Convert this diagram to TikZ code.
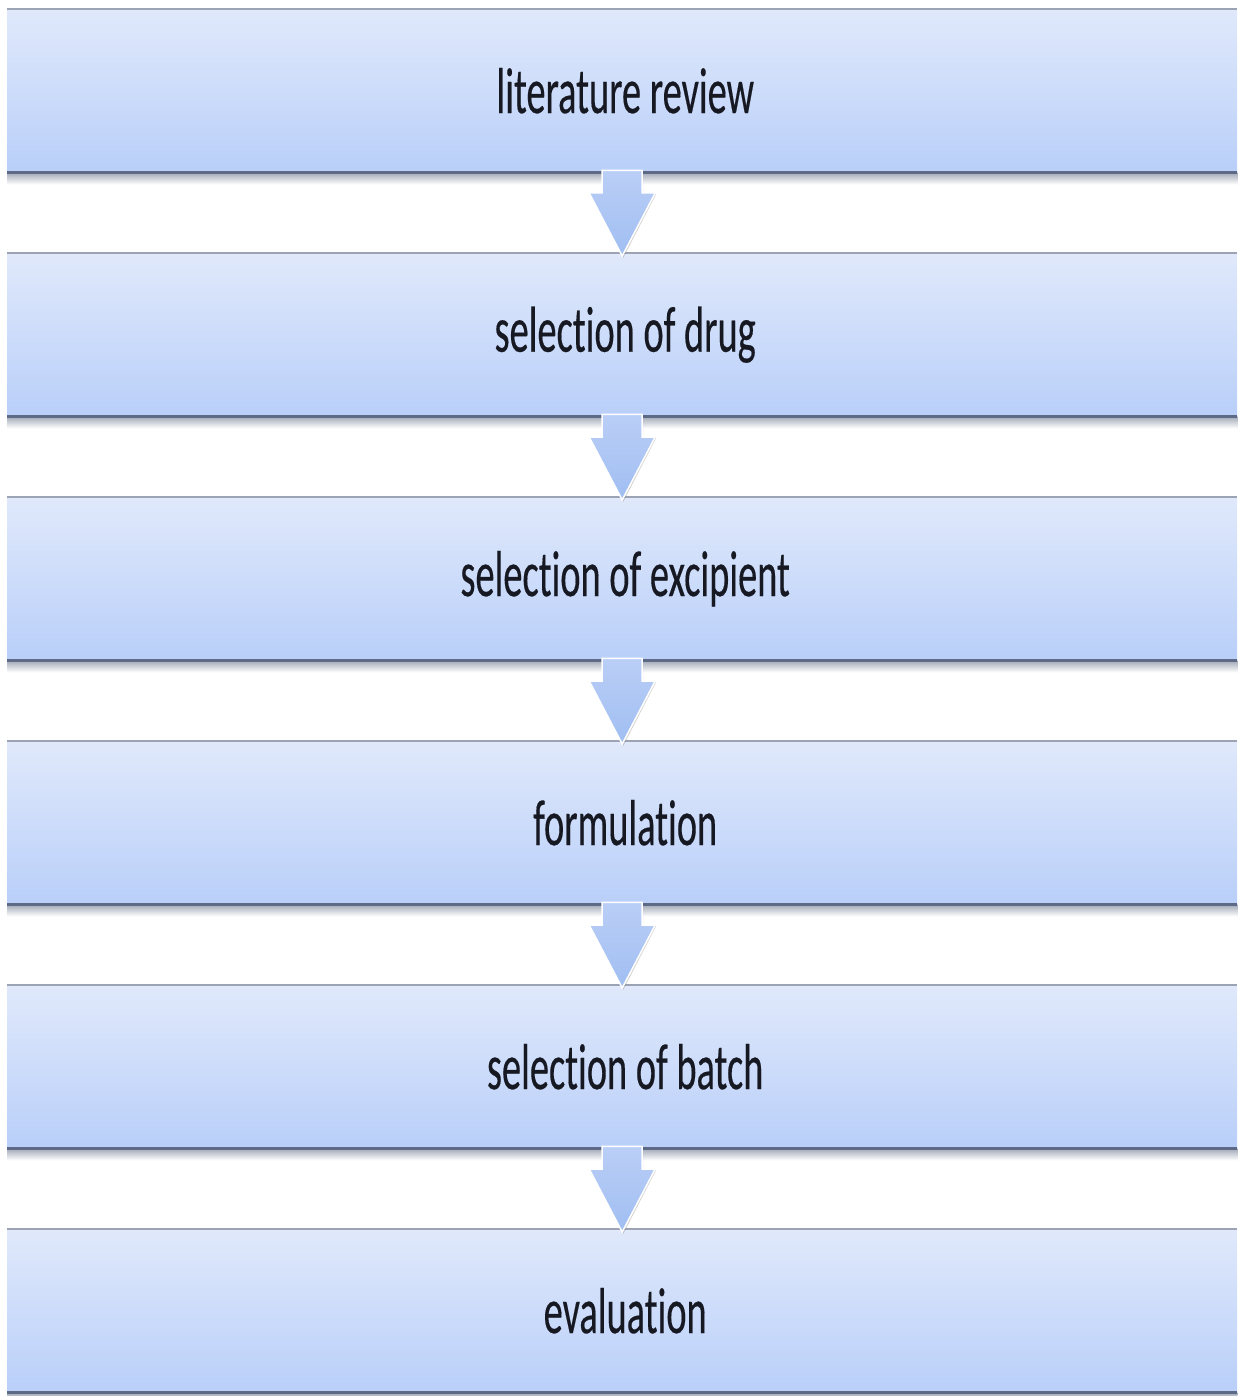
\documentclass[tikz,border=0pt]{standalone}
\usepackage{fontspec}
\setmainfont{Carlito}[Ligatures=NoCommon]
\newfontfamily\lblfont{Carlito}[Ligatures=NoCommon, FakeBold=0.4]
\usetikzlibrary{calc}
\definecolor{barTop}{RGB}{224,233,251}
\definecolor{barBot}{RGB}{185,207,249}
\definecolor{edgeDark}{RGB}{92,106,133}
\definecolor{edgeLight}{RGB}{156,164,180}
\definecolor{shadowGray}{RGB}{160,168,182}
\definecolor{arrTop}{RGB}{186,206,246}
\definecolor{arrBot}{RGB}{160,190,242}
\definecolor{txt}{RGB}{22,24,34}
\newcommand\barlabel[1]{\hspace*{6pt}\scalebox{0.59}[1]{#1}}
\newcommand\flowarrow[2]{%
  \path[arrowshadow] ($(#1.south)+(-19,-1)$) -- ($(#1.south)+(21,-1)$) -- ($(#2.north)+(21,-59)$) -- ($(#2.north)+(34,-59)$) -- ($(#2.north)+(1,5)$) -- ($(#2.north)+(-32,-59)$) -- ($(#2.north)+(-19,-59)$) -- cycle;
  \path[arrowsty] ($(#1.south)+(-20,-2)$) -- ($(#1.south)+(20,-2)$) -- ($(#2.north)+(20,-60)$) -- ($(#2.north)+(33,-60)$) -- ($(#2.north)+(0,3)$) -- ($(#2.north)+(-33,-60)$) -- ($(#2.north)+(-20,-60)$) -- cycle;}
\begin{document}
\begin{tikzpicture}[x=1pt,y=-1pt,
  bar/.style={top color=barTop, bottom color=barBot, minimum width=1230pt, minimum height=163pt,
    inner sep=0pt, anchor=north west, font=\lblfont\fontsize{65}{70}\selectfont, text=txt},
  topedge/.style={draw=edgeLight, line width=2pt},
  botedge/.style={draw=edgeDark, line width=3pt},
  shadowsty/.style={top color=shadowGray, bottom color=white},
  arrowsty/.style={top color=arrTop, bottom color=arrBot, draw=white, line width=1.5pt, line join=miter},
  arrowshadow/.style={fill=gray, opacity=0.35}]
\useasboundingbox (0,0) rectangle (1237,1396);
\fill[white] (0,0) rectangle (1237,1396);
\foreach \i/\t in {1/literature review, 2/selection of drug, 3/selection of excipient, 4/formulation, 5/selection of batch, 6/evaluation}{
  \node[bar] (b\i) at (7,{9+244*(\i-1)}) {\barlabel{\t}};
  \shade[shadowsty] (b\i.south west) rectangle ($(b\i.south east)+(0,12)$);
  \draw[topedge] (b\i.north west) -- (b\i.north east);
  \draw[botedge] (b\i.south west) -- (b\i.south east);
}
\flowarrow{b1}{b2}
\flowarrow{b2}{b3}
\flowarrow{b3}{b4}
\flowarrow{b4}{b5}
\flowarrow{b5}{b6}
\end{tikzpicture}
\end{document}
